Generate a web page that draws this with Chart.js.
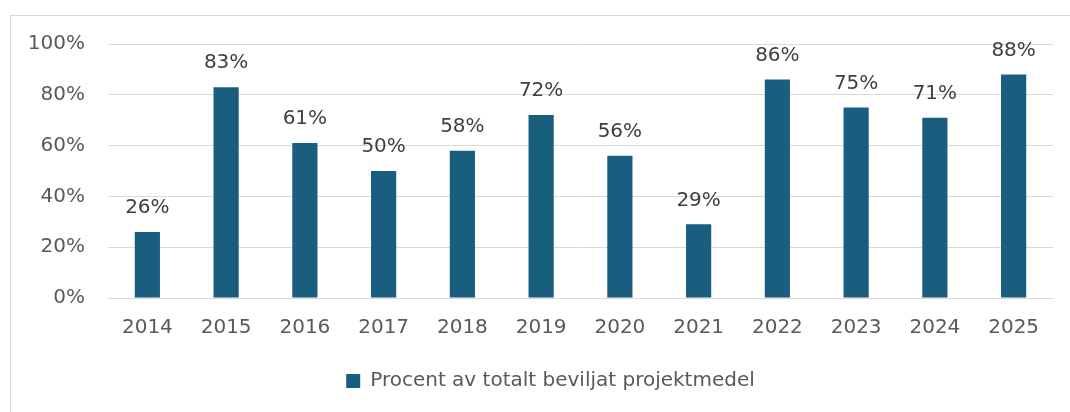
<!DOCTYPE html>
<html>
<head>
<meta charset="utf-8">
<script src="https://cdn.jsdelivr.net/npm/chart.js@4.4.1/dist/chart.umd.min.js"></script>
<style>
  html, body { margin: 0; padding: 0; background: #ffffff; }
  #wrap { position: relative; width: 1070px; height: 412px; }
</style>
</head>
<body>
<div id="wrap"><canvas id="c" width="1070" height="412"></canvas></div>
<script>
const years = ['2014','2015','2016','2017','2018','2019','2020','2021','2022','2023','2024','2025'];
const percentValues = [26, 83, 61, 50, 58, 72, 56, 29, 86, 75, 71, 88];
const seriesLabel = 'Procent av totalt beviljat projektmedel';
const yTicks = [0, 20, 40, 60, 80, 100];

const FONT = "'DejaVu Sans', 'Liberation Sans', Arial, sans-serif";
const BAR = '#195e7f';

const framePlugin = {
  id: 'frame',
  beforeDraw(chart) {
    const ctx = chart.ctx;
    ctx.save();
    ctx.fillStyle = '#ffffff';
    ctx.fillRect(0, 0, chart.width, chart.height);
    ctx.strokeStyle = '#d9d9d9';
    ctx.lineWidth = 1;
    ctx.strokeRect(10.5, 15.5, chart.width + 20, chart.height + 20);
    ctx.restore();
  }
};

const legendShift = {
  id: 'legendShift',
  afterLayout(chart) {
    if (chart.legend) {
      chart.legend.left += 14;
      chart.legend.right += 14;
    }
  }
};

const labelPlugin = {
  id: 'valueLabels',
  afterDatasetsDraw(chart) {
    const ctx = chart.ctx;
    const meta = chart.getDatasetMeta(0);
    ctx.save();
    ctx.font = '20px ' + FONT;
    ctx.fillStyle = '#404040';
    ctx.textAlign = 'center';
    ctx.textBaseline = 'middle';
    meta.data.forEach((bar, i) => {
      ctx.fillText(percentValues[i] + '%', bar.x, bar.y - 24);
    });
    ctx.restore();
  }
};

new Chart(document.getElementById('c'), {
  type: 'bar',
  data: {
    labels: years,
    datasets: [{
      label: seriesLabel,
      data: percentValues,
      backgroundColor: BAR,
      borderWidth: 0,
      categoryPercentage: 1,
      barPercentage: 0.32
    }]
  },
  options: {
    responsive: false,
    animation: false,
    devicePixelRatio: 1,
    layout: { padding: { left: 20, right: 17, top: 44, bottom: 11 } },
    plugins: {
      tooltip: { enabled: false },
      legend: {
        position: 'bottom',
        labels: {
          color: '#595959',
          font: { family: FONT, size: 20 },
          boxWidth: 14,
          boxHeight: 14,
          padding: 10
        }
      }
    },
    scales: {
      x: {
        grid: { display: false, drawTicks: false },
        border: { display: true, color: '#d9d9d9', width: 1 },
        ticks: { color: '#595959', font: { family: FONT, size: 20 }, padding: 18, maxRotation: 0 },
        afterFit(scale) { scale.height = 63; }
      },
      y: {
        min: 0,
        max: 100,
        afterBuildTicks(scale) { scale.ticks = yTicks.map(v => ({ value: v })); },
        grid: { color: '#d9d9d9', lineWidth: 1, drawTicks: false },
        border: { display: false },
        ticks: {
          color: '#595959',
          font: { family: FONT, size: 20 },
          padding: 23,
          callback: v => v + '%'
        },
        afterFit(scale) { scale.width = 88; }
      }
    }
  },
  plugins: [framePlugin, legendShift, labelPlugin]
});
</script>
</body>
</html>
